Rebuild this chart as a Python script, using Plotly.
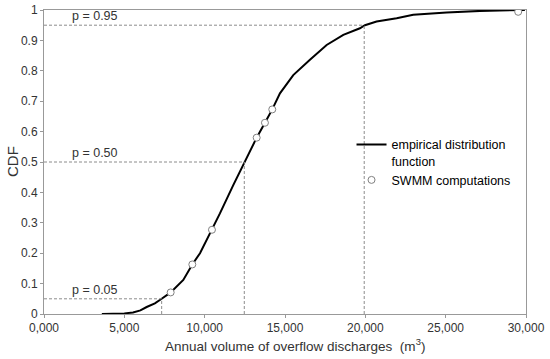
import plotly.graph_objects as go

# Empirical distribution function
ecdf_x = [3600, 4500, 5000, 5540, 6000, 6390, 6900, 7324, 7884, 8670, 9230, 9710,
          10454, 10950, 11780, 12466, 13236, 13752, 14207, 14686, 15514, 16552,
          17592, 18630, 19664, 19975, 20700, 21950, 22980, 25060, 27130, 29930]
ecdf_y = [0.0, 0.001, 0.002, 0.005, 0.012, 0.023, 0.035, 0.05, 0.071, 0.112, 0.163, 0.2,
          0.277, 0.331, 0.424, 0.5, 0.58, 0.629, 0.673, 0.726, 0.786, 0.836,
          0.885, 0.918, 0.94, 0.95, 0.962, 0.973, 0.984, 0.992, 0.997, 1.0]

# SWMM computations
swmm_x = [7884, 9230, 10454, 13236, 13752, 14207, 29514]
swmm_y = [0.071, 0.163, 0.277, 0.58, 0.629, 0.673, 0.994]

# Quantile levels
p_levels = [0.05, 0.50, 0.95]
p_values = [7324, 12466, 19930]
p_labels = ["p = 0.05", "p = 0.50", "p = 0.95"]

x_tickvals = [0, 5000, 10000, 15000, 20000, 25000, 30000]
x_ticktext = ["0,000", "5,000", "10,000", "15,000", "20,000", "25,000", "30,000"]
y_tickvals = [0, 0.1, 0.2, 0.3, 0.4, 0.5, 0.6, 0.7, 0.8, 0.9, 1]
y_ticktext = ["0", "0.1", "0.2", "0.3", "0.4", "0.5", "0.6", "0.7", "0.8", "0.9", "1"]

FONT = "Liberation Sans, Arial, sans-serif"
TXT = "#333333"

fig = go.Figure()
fig.add_trace(go.Scatter(
    x=ecdf_x, y=ecdf_y, mode="lines", line=dict(color="black", width=2),
    name="empirical distribution<br>function"))
fig.add_trace(go.Scatter(
    x=swmm_x, y=swmm_y, mode="markers",
    marker=dict(symbol="circle", size=7, color="white", line=dict(color="#808080", width=1)),
    name="SWMM computations"))

for p, v, lab in zip(p_levels, p_values, p_labels):
    fig.add_shape(type="line", xref="x", yref="y", x0=0, x1=v, y0=p, y1=p,
                  line=dict(color="#8c8c8c", width=1, dash="3px,2px"))
    fig.add_shape(type="line", xref="x", yref="y", x0=v, x1=v, y0=0, y1=p,
                  line=dict(color="#8c8c8c", width=1, dash="3px,2px"))
    fig.add_annotation(x=1600, y=p, xref="x", yref="y", text=lab, showarrow=False,
                       xanchor="left", yanchor="bottom", yshift=0,
                       font=dict(family=FONT, size=12.5, color=TXT))

# axis titles
fig.add_annotation(x=0, y=0.5, xref="paper", yref="paper", text="CDF",
                   showarrow=False, textangle=-90, xanchor="center", yanchor="middle",
                   xshift=-32, font=dict(family=FONT, size=15, color=TXT))
fig.add_annotation(x=0.5, y=0, xref="paper", yref="paper",
                   text="Annual volume of overflow discharges&nbsp; (m<sup>3</sup>)",
                   showarrow=False, xanchor="center", yanchor="middle",
                   xshift=10, yshift=-31, font=dict(family=FONT, size=13.5, color=TXT))

fig.update_layout(
    width=550, height=359,
    margin=dict(l=44, r=24, t=10, b=45),
    paper_bgcolor="white", plot_bgcolor="white",
    font=dict(family=FONT, size=12, color=TXT),
    showlegend=True,
    legend=dict(x=0.638, y=0.606, xanchor="left", yanchor="top", bgcolor="rgba(0,0,0,0)",
                font=dict(family=FONT, size=12.5, color="black"), valign="top",
                tracegroupgap=0),
    xaxis=dict(range=[0, 30000], tickvals=x_tickvals, ticktext=x_ticktext,
               showgrid=False, zeroline=False, showline=True, mirror=True,
               linecolor="#999999", linewidth=1, ticks="outside", ticklen=3,
               tickcolor="#999999", automargin=False, tickfont=dict(size=12)),
    yaxis=dict(range=[0, 1], tickvals=y_tickvals, ticktext=y_ticktext,
               showgrid=False, zeroline=False, showline=True, mirror=True,
               linecolor="#999999", linewidth=1, ticks="outside", ticklen=3,
               tickcolor="#999999", automargin=False, tickfont=dict(size=12)),
)

fig.write_html("out.html", config={"displayModeBar": False},
               post_script="document.body.style.margin='0px';")
